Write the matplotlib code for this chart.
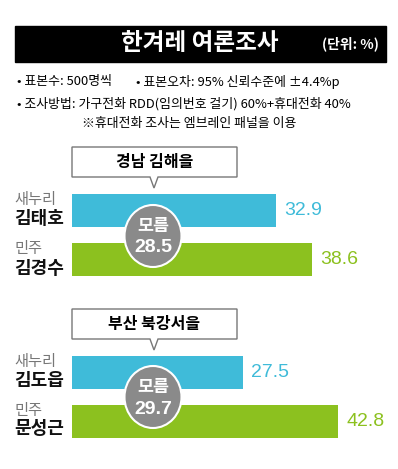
import matplotlib.pyplot as plt
from matplotlib.patches import Polygon, Ellipse, Rectangle

plt.rcParams['font.family'] = ['Noto Sans CJK KR', 'DejaVu Sans']

# data
regions = ['경남 김해을', '부산 북강서을']
parties = ['새누리', '민주']
candidates = [['김태호', '김경수'], ['김도읍', '문성근']]
support = [[32.9, 38.6], [27.5, 42.8]]
undecided = [28.5, 29.7]

title = '한겨레 여론조사'
unit = '(단위: %)'
notes = ['• 표본수: 500명씩', '• 표본오차: 95% 신뢰수준에 ±4.4%p',
         '• 조사방법: 가구전화 RDD(임의번호 걸기) 60%+휴대전화 40%',
         '※휴대전화 조사는 엠브레인 패널을 이용']

colors = ['#3fbbd9', '#8cc11f']
W, H = 398, 469
px_per_unit = 6.21
bar_left = 72
centers = [(210.5, 260), (372.5, 421)]   # bar centre rows in pixels
box_top = [147, 309]
circle_y = [236, 397]

fig = plt.figure(figsize=(W / 100, H / 100), dpi=100)
bg = fig.add_axes([0, 0, 1, 1])
bg.set_xlim(0, W)
bg.set_ylim(H, 0)
bg.axis('off')

# header
bg.add_patch(Rectangle((15, 26), 371, 36, color='black'))
bg.text(200, 43, title, color='white', fontsize=17, fontweight='bold',
        ha='center', va='center')
bg.text(322, 44, unit, color='white', fontsize=10, fontweight='bold',
        ha='left', va='center')
bg.text(17, 82, notes[0], fontsize=9.3, va='center')
bg.text(136, 82, notes[1], fontsize=9.3, va='center')
bg.text(17, 104, notes[2], fontsize=9.3, va='center')
bg.text(82, 123, notes[3], fontsize=9.3, va='center')

for i in range(len(regions)):
    c0, c1 = centers[i]
    sp = c1 - c0
    top, bot = c0 - sp / 2, c1 + sp / 2
    width_px = 320
    ax = fig.add_axes([bar_left / W, 1 - bot / H, width_px / W, (bot - top) / H])
    ax.set_xlim(0, width_px / px_per_unit)
    ax.set_ylim(1.5, -0.5)
    ax.axis('off')
    ax.barh([0, 1], support[i], height=33 / sp, color=colors)
    for j, v in enumerate(support[i]):
        ax.annotate(f'{v}', (v, j), xytext=(6, 0), textcoords='offset points',
                    va='center', ha='left', color=colors[j], fontsize=14,
                    family='Liberation Sans')

    # party / candidate labels
    for j, c in enumerate((c0, c1)):
        bg.text(14, c - 11, parties[j], fontsize=11, color='#777777', va='center')
        bg.text(14, c + 8, candidates[i][j], fontsize=13, fontweight='heavy',
                color='#111111', va='center')

# overlay for callouts and circles
ov = fig.add_axes([0, 0, 1, 1])
ov.set_xlim(0, W)
ov.set_ylim(H, 0)
ov.axis('off')
ov.patch.set_alpha(0)
for i in range(len(regions)):
    t = box_top[i]
    b = t + 30
    pts = [(72, t), (237, t), (237, b), (158, b), (154, b + 11), (150, b), (72, b)]
    ov.add_patch(Polygon(pts, closed=True, facecolor='white', edgecolor='#777777', lw=1))
    ov.text(154.5, t + 15, regions[i], fontsize=11.5, fontweight='bold',
            ha='center', va='center')
    cy = circle_y[i]
    ov.add_patch(Ellipse((153, cy), 57, 62, facecolor='#8a8a8a',
                         edgecolor='white', lw=1.5))
    ov.text(153, cy - 10, '모름', color='white', fontsize=12.5, fontweight='bold',
            ha='center', va='center')
    ov.text(153, cy + 12, f'{undecided[i]}', color='white', fontsize=14,
            fontweight='bold', ha='center', va='center', family='Liberation Sans')

fig.savefig('out.png', dpi=100)
